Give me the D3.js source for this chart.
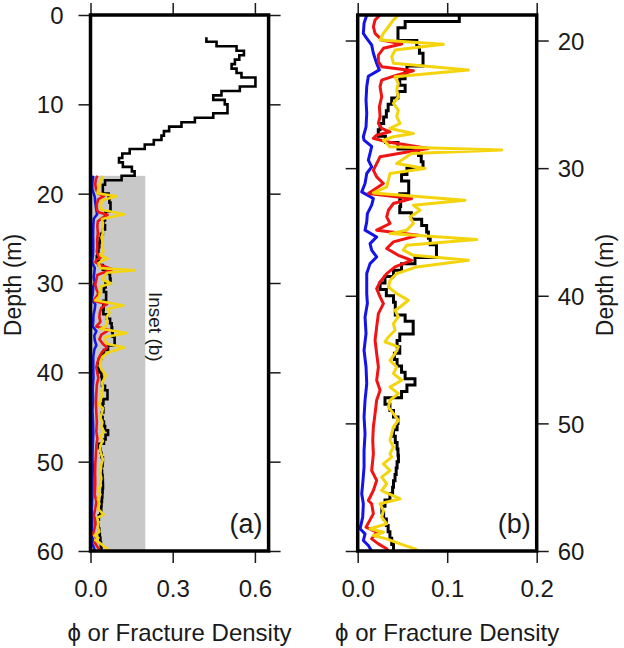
<!DOCTYPE html>
<html><head><meta charset="utf-8">
<script src="https://cdn.jsdelivr.net/npm/d3@7"></script>
<style>
body{margin:0;background:#fff}
text{font-family:"Liberation Sans",Arial,Helvetica,sans-serif;fill:#1a1a1a}
</style>
</head><body>
<svg id="c" width="624" height="648"></svg>
<script>
// ---------- data ----------
const blackDepth = [2.5,3.0,3.5,4.0,4.5,5.0,5.5,6.0,6.5,7.0,7.5,8.0,8.5,9.0,9.5,10.0,10.5,11.0,11.5,12.0,12.5,13.0,13.5,14.0,14.5,15.0,15.5,16.0,16.5,17.0,17.5,
 18.0,18.5,19.0,19.5,20.0,20.5,21.0,21.5,22.0,22.5,23.0,23.5,24.0,24.5,25.0,25.5,26.0,26.5,27.0,27.5,28.0,28.5,29.0,29.5,
 30.0,30.5,31.0,31.5,32.0,32.5,33.0,33.5,34.0,34.5,35.0,35.5,36.0,36.5,37.0,37.5,38.0,38.5,39.0,39.5,
 40.0,40.5,41.0,41.5,42.0,42.5,43.0,43.5,44.0,44.5,45.0,45.5,46.0,46.5,47.0,47.5,48.0,48.5,49.0,49.5,
 50.0,50.5,51.0,51.5,52.0,52.5,53.0,53.5,54.0,54.5,55.0,55.5,56.0,56.5,57.0,57.5,58.0,58.5,59.0,59.5];
const blackVal = [0.423,0.460,0.533,0.560,0.543,0.527,0.515,0.533,0.551,0.602,0.602,0.545,0.478,0.448,0.490,0.500,0.500,0.448,0.381,0.332,0.287,0.268,0.259,0.231,0.198,0.143,0.116,0.104,0.118,0.151,0.161,
 0.1135,0.053,0.045,0.045,0.066,0.069,0.073,0.073,0.055,0.053,0.047,0.053,0.045,0.038,0.034,0.032,0.029,0.025,0.023,0.031,0.045,0.068,0.071,0.073,
 0.055,0.049,0.057,0.057,0.047,0.048,0.047,0.060,0.0715,0.077,0.079,0.081,0.088,0.088,0.064,0.049,0.040,0.0305,0.025,0.032,
 0.040,0.042,0.042,0.053,0.062,0.062,0.047,0.044,0.047,0.041,0.044,0.049,0.053,0.064,0.055,0.049,0.0305,0.036,0.040,0.045,
 0.044,0.040,0.042,0.044,0.045,0.0455,0.044,0.043,0.0417,0.040,0.039,0.036,0.0305,0.027,0.029,0.032,0.034,0.036,0.038,0.040];

const blueSeries = [[18.0,0.0101],[18.65,0.0071],[19.44,0.0063],[19.83,0.0101],[20.35,0.0156],[21.0,0.0175],[21.8,0.0212],[22.3,0.0242],[22.8,0.0119],[23.6,0.0101],[24.67,0.0093],[25.7,0.0101],[26.76,0.0093],[27.54,0.0063],[27.8,0.0071],[28.3,0.0156],[28.85,0.0138],[29.37,0.0119],[29.9,0.0156],[30.42,0.0101],[31.2,0.0082],[31.86,0.0045],[32.38,0.0175],[32.9,0.0156],[33.56,0.0108],[34.21,0.0101],[34.86,0.0082],[35.39,0.0212],[35.91,0.0138],[36.43,0.0156],[36.96,0.0212],[37.48,0.0138],[38.26,0.0101],[39.05,0.0101],[39.83,0.0101],[40.6,0.0108],[41.66,0.0082],[42.96,0.0093],[44.27,0.0071],[45.58,0.0093],[46.89,0.0101],[48.19,0.0082],[49.5,0.0071],[50.81,0.0082],[52.11,0.0071],[53.43,0.0071],[54.73,0.0056],[55.52,0.0045],[56.3,0.0063],[57.35,0.0056],[58.26,0.0026],[58.66,0.0082],[59.18,0.0063],[59.57,0.0119],[60.0,0.0156]];

const redSeries = [[18.0,0.025],[18.39,0.0194],[18.92,0.0175],[19.44,0.0194],[19.96,0.0268],[20.27,0.0492],[20.61,0.0287],[21.14,0.0231],[21.66,0.0231],[22.05,0.0268],[22.37,0.0622],[22.71,0.0436],[23.1,0.0268],[23.62,0.025],[24.41,0.0268],[25.19,0.0242],[25.97,0.025],[26.5,0.0231],[26.89,0.0268],[27.15,0.0361],[27.41,0.0212],[27.67,0.0175],[27.93,0.0324],[28.46,0.079],[28.68,0.06],[29.11,0.025],[29.64,0.0212],[30.16,0.0175],[30.68,0.0212],[31.2,0.0287],[31.99,0.0119],[32.38,0.0603],[32.77,0.0399],[33.3,0.0343],[33.82,0.0324],[34.34,0.0361],[34.86,0.0212],[35.26,0.0678],[35.78,0.0399],[36.3,0.0324],[36.83,0.0454],[37.22,0.0603],[37.74,0.0417],[38.26,0.0324],[38.92,0.025],[39.44,0.0212],[40.09,0.025],[40.62,0.0287],[41.4,0.0231],[42.44,0.0212],[43.49,0.0194],[44.53,0.0212],[45.58,0.0231],[46.62,0.0212],[47.41,0.025],[48.19,0.0212],[49.24,0.0194],[50.28,0.0175],[51.33,0.0168],[52.38,0.0175],[52.9,0.0168],[53.69,0.0156],[54.47,0.0212],[55.26,0.0175],[56.04,0.0119],[56.3,0.0156],[57.09,0.0175],[58.13,0.0093],[58.53,0.0212],[59.05,0.0156],[59.44,0.0231],[59.83,0.0324],[60.0,0.0343]];

const yellowSeries = [[18.0,0.0454],[18.39,0.0399],[18.92,0.0343],[19.44,0.0287],[19.96,0.025],[20.3,0.0957],[20.75,0.0417],[21.27,0.038],[21.79,0.0399],[22.31,0.1237],[22.84,0.0417],[23.36,0.0454],[23.88,0.0436],[24.41,0.0454],[24.93,0.0399],[25.45,0.0454],[25.97,0.0436],[26.5,0.0473],[26.89,0.0361],[27.28,0.0622],[27.54,0.0399],[27.8,0.0287],[28.33,0.0361],[28.58,0.1609],[28.85,0.06],[29.11,0.0547],[29.64,0.0436],[30.03,0.0752],[30.42,0.0361],[30.94,0.0343],[31.47,0.0324],[31.94,0.0175],[32.51,0.1199],[32.9,0.0622],[33.3,0.0696],[33.82,0.0585],[34.34,0.0622],[34.86,0.0547],[35.13,0.0361],[35.6,0.133],[36.04,0.0547],[36.43,0.051],[36.83,0.0622],[37.22,0.1237],[37.74,0.0659],[38.26,0.0436],[38.79,0.0361],[39.31,0.0343],[39.83,0.0436],[40.35,0.0566],[40.88,0.0473],[41.13,0.0417],[41.66,0.0454],[42.18,0.0399],[42.7,0.0417],[43.23,0.0343],[43.62,0.0305],[44.01,0.0454],[44.53,0.0417],[45.06,0.0361],[45.58,0.0436],[46.1,0.0399],[46.62,0.0492],[47.15,0.0361],[47.67,0.0454],[48.19,0.0361],[48.72,0.0343],[49.24,0.0399],[49.76,0.0454],[50.28,0.0399],[50.81,0.038],[51.33,0.0361],[51.85,0.0399],[52.38,0.0361],[52.64,0.038],[53.17,0.0287],[53.69,0.0361],[54.21,0.0268],[54.73,0.0324],[55.26,0.0268],[55.91,0.0473],[56.3,0.025],[56.83,0.0287],[57.35,0.0268],[57.87,0.0324],[58.26,0.0138],[58.53,0.0287],[58.79,0.0175],[59.05,0.0324],[59.44,0.0473],[59.83,0.0641],[60.0,0.0678]];

const xTicksA = [0, 0.3, 0.6];
const xTicksB = [0, 0.1, 0.2];
const yTicksA = [0, 10, 20, 30, 40, 50, 60];
const yTicksB = [20, 30, 40, 50, 60];
const xTitle = "\u03D5 or Fracture Density";
const yTitle = "Depth (m)";
const insetRange = {x0: 0, x1: 0.2, d0: 18, d1: 60};

// ---------- drawing ----------
const svg = d3.select("#c");
svg.append("rect").attr("width",624).attr("height",648).attr("fill","#fff");

const COLORS = {black:"#000", blue:"#1414e8", red:"#f01414", yellow:"#f4d40c"};
const FS = 24;

function stepPoints(dMin){
  const pts = [];
  blackDepth.forEach((d,i)=>{
    const dEnd = i < blackDepth.length-1 ? blackDepth[i+1] : 60;
    if (dEnd <= dMin) return;
    pts.push([Math.max(d,dMin), blackVal[i]]);
    pts.push([dEnd, blackVal[i]]);
  });
  return pts;
}

function panel(o){
  const x = d3.scaleLinear(o.xdom, o.xrng);
  const y = d3.scaleLinear(o.ydom, [15, 551]);
  const g = svg.append("g");
  const cid = "clip"+o.id;
  svg.append("defs").append("clipPath").attr("id",cid)
    .append("rect").attr("x",o.xrng[0]).attr("y",15)
    .attr("width",o.xrng[1]-o.xrng[0]).attr("height",536);
  const inner = g.append("g").attr("clip-path",`url(#${cid})`);

  if (o.inset){
    inner.append("rect")
      .attr("x",x(insetRange.x0)).attr("y",y(insetRange.d0))
      .attr("width",x(insetRange.x1)-x(insetRange.x0))
      .attr("height",y(insetRange.d1)-y(insetRange.d0))
      .attr("fill","#c8c8c8");
  }
  const line = d3.line().x(d=>x(d[1])).y(d=>y(d[0]));
  inner.append("path").attr("d", line(stepPoints(o.ydom[0])))
    .attr("fill","none").attr("stroke",COLORS.black).attr("stroke-width",o.lw)
    .attr("stroke-linejoin","miter");
  [["blue",blueSeries],["red",redSeries],["yellow",yellowSeries]].forEach(([c,s])=>{
    inner.append("path").attr("d", line(s))
      .attr("fill","none").attr("stroke",COLORS[c]).attr("stroke-width",o.lw)
      .attr("stroke-linejoin","round");
  });

  if (o.inset){
    g.append("text")
      .attr("transform",`translate(${x(0.2)+4},${y(34.9)}) rotate(90)`)
      .attr("text-anchor","middle").attr("font-size",19).text("Inset (b)");
  }

  const style = (sel)=>{
    sel.select(".domain").remove();
    sel.selectAll(".tick line").attr("stroke","#1a1a1a").attr("stroke-width",1.5);
    sel.selectAll("text").attr("font-size",FS).attr("fill","#1a1a1a")
      .attr("font-family",'"Liberation Sans",Arial,Helvetica,sans-serif');
  };
  const fmt = d3.format(".1f");
  g.append("g").attr("transform","translate(0,551)")
    .call(d3.axisBottom(x).tickValues(o.xticks).tickSize(12).tickPadding(17).tickFormat(fmt)).call(style);
  g.append("g").attr("transform","translate(0,15)")
    .call(d3.axisTop(x).tickValues(o.xticks).tickSize(12).tickFormat("")).call(style);
  const la = d3.axisLeft(y).tickValues(o.yticks).tickSize(12).tickPadding(15);
  const ra = d3.axisRight(y).tickValues(o.yticks).tickSize(12).tickPadding(9);
  if (o.labelSide === "left") ra.tickFormat(""); else la.tickFormat("");
  g.append("g").attr("transform",`translate(${o.xrng[0]},0)`).call(la).call(style)
    .selectAll("text").attr("dy","0.36em");
  g.append("g").attr("transform",`translate(${o.xrng[1]},0)`).call(ra).call(style)
    .selectAll("text").attr("dy","0.36em");

  g.append("rect").attr("x",o.xrng[0]).attr("y",15)
    .attr("width",o.xrng[1]-o.xrng[0]).attr("height",536)
    .attr("fill","none").attr("stroke","#000").attr("stroke-width",3.5);

  g.append("text").attr("x",o.xrng[1]-6).attr("y",533).attr("text-anchor","end")
    .attr("font-size",27).text(o.letter);

  g.append("text").attr("x",(o.xrng[0]+o.xrng[1])/2).attr("y",641)
    .attr("text-anchor","middle").attr("font-size",FS).text(xTitle);

  const yt = o.labelSide === "left" ? 21 : 613;
  g.append("text").attr("transform",`translate(${yt},285) rotate(-90)`)
    .attr("text-anchor","middle").attr("font-size",23).text(yTitle);
}

panel({id:"a", xdom:[0,0.65], xrng:[90.5,268.6], ydom:[0,60], xticks:xTicksA, yticks:yTicksA,
  labelSide:"left", inset:true, lw:2.6, letter:"(a)"});
panel({id:"b", xdom:[0,0.2], xrng:[357.7,536.7], ydom:[18,60], xticks:xTicksB, yticks:yTicksB,
  labelSide:"right", inset:false, lw:3, letter:"(b)"});
</script>
</body></html>
